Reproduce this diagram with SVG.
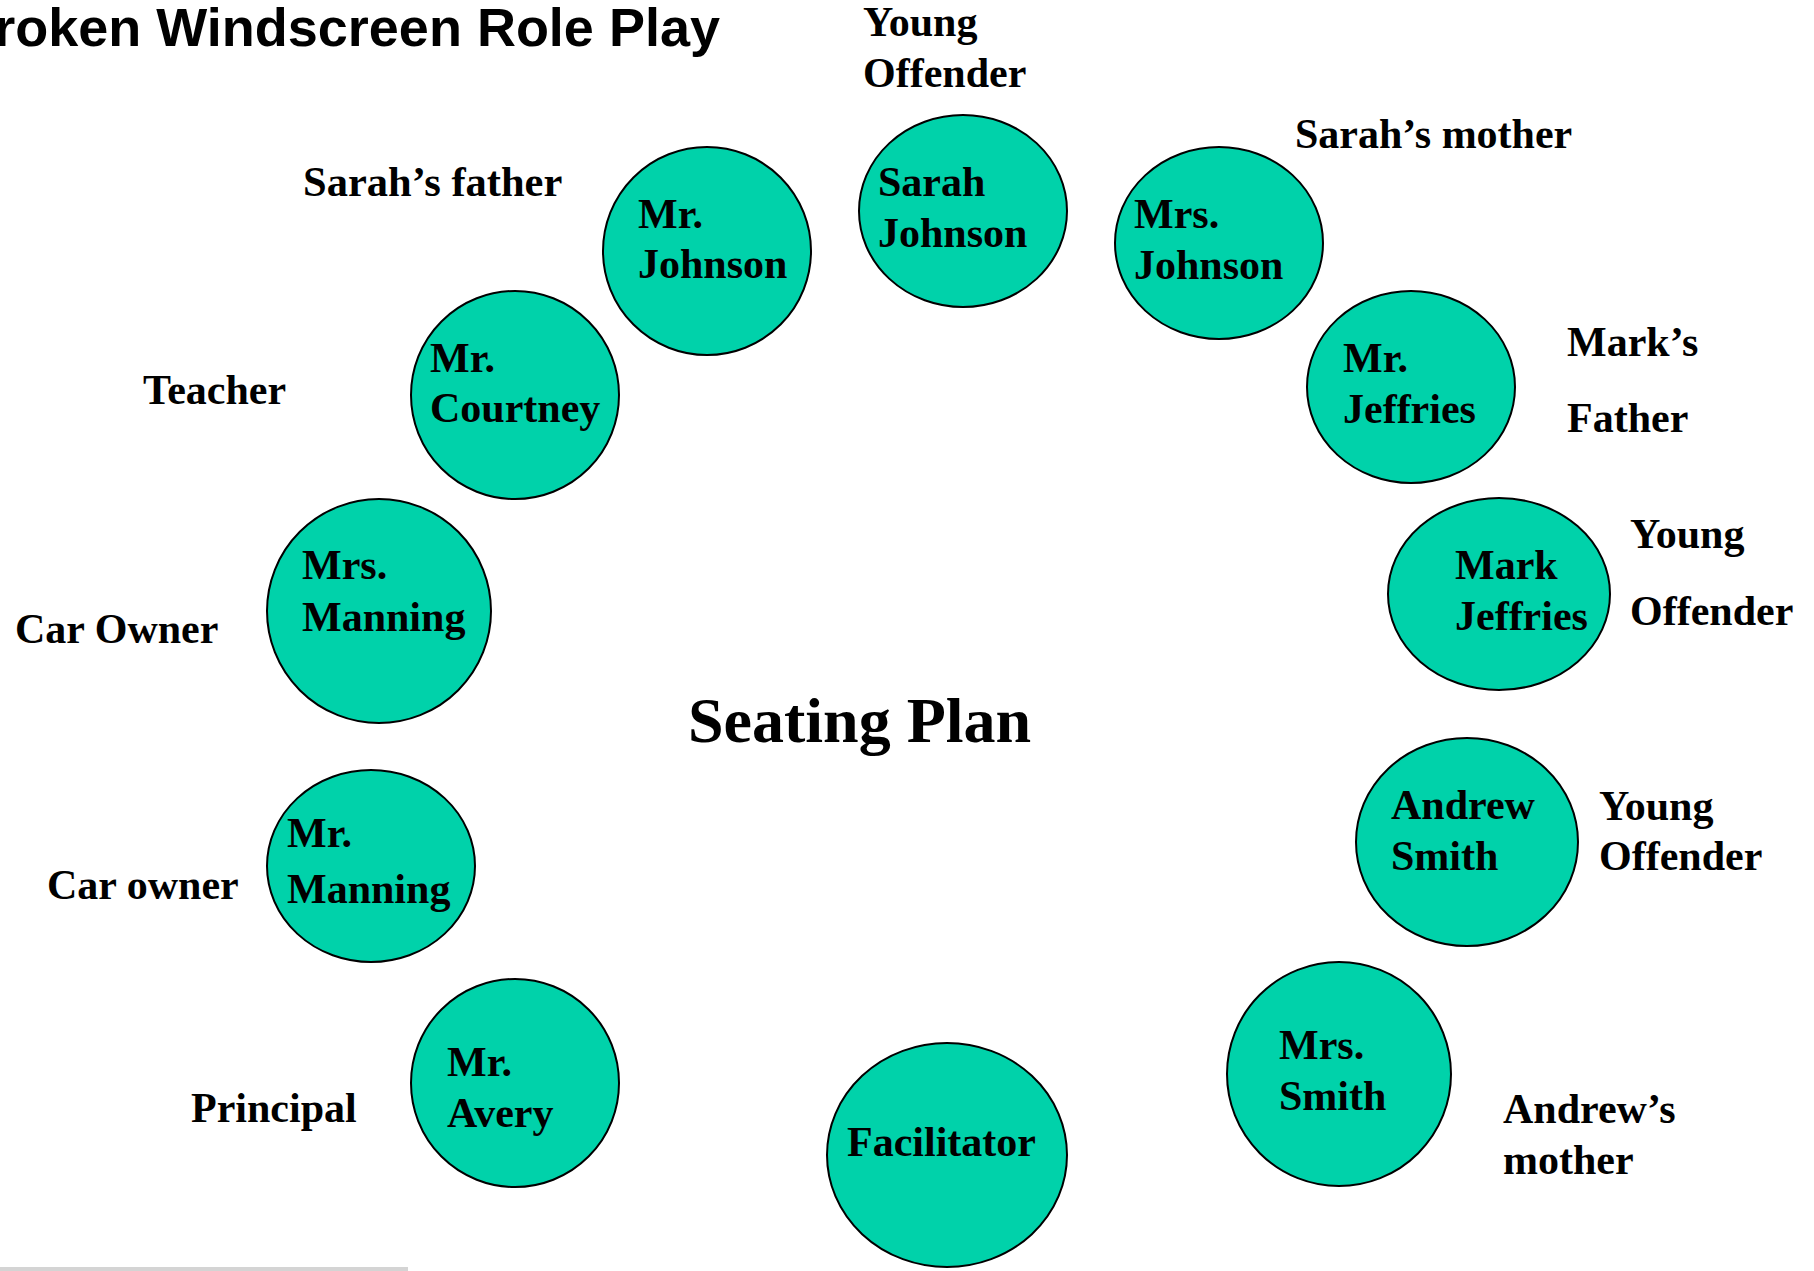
<svg xmlns="http://www.w3.org/2000/svg" width="1814" height="1271" viewBox="0 0 1814 1271">
<style>
.seat{fill:#00D2AA;stroke:#000;stroke-width:2}
.nt{font-family:"Liberation Serif","Times New Roman",serif;font-weight:bold;font-size:42px;fill:#000}
.lb{font-family:"Liberation Serif","Times New Roman",serif;font-weight:bold;font-size:42px;fill:#000}
.title{font-family:"Liberation Sans",Arial,sans-serif;font-weight:bold;font-size:54px;fill:#000}
</style>
<rect width="1814" height="1271" fill="#fff"/>
<rect x="0" y="1267" width="408" height="4" fill="#d4d4d4"/>
<text class="title" x="720" y="46" text-anchor="end">Broken Windscreen Role Play</text>
<text class="lb" x="688" y="742" style="font-size:64px">Seating Plan</text>
<g id="connectors"/>
<g id="labels">
<text class="lb" x="863" y="36">Young</text>
<text class="lb" x="863" y="87">Offender</text>
<text class="lb" x="303" y="196" style="font-size:42.5px">Sarah’s father</text>
<text class="lb" x="1295" y="148">Sarah’s mother</text>
<text class="lb" x="143" y="404">Teacher</text>
<text class="lb" x="1567" y="356">Mark’s</text>
<text class="lb" x="1567" y="432">Father</text>
<text class="lb" x="1630" y="548">Young</text>
<text class="lb" x="1630" y="625">Offender</text>
<text class="lb" x="15" y="643">Car Owner</text>
<text class="lb" x="1599" y="820">Young</text>
<text class="lb" x="1599" y="870">Offender</text>
<text class="lb" x="47" y="899">Car owner</text>
<text class="lb" x="191" y="1122">Principal</text>
<text class="lb" x="1503" y="1123">Andrew’s</text>
<text class="lb" x="1503" y="1174">mother</text>
</g>
<g id="sarah-johnson"><ellipse class="seat" cx="963" cy="211" rx="104" ry="96"/><text class="nt" x="878" y="196">Sarah</text><text class="nt" x="878" y="247">Johnson</text></g>
<g id="mr-johnson"><ellipse class="seat" cx="707" cy="251" rx="104" ry="104"/><text class="nt" x="638" y="228">Mr.</text><text class="nt" x="638" y="278">Johnson</text></g>
<g id="mrs-johnson"><ellipse class="seat" cx="1219" cy="243" rx="104" ry="96"/><text class="nt" x="1134" y="228">Mrs.</text><text class="nt" x="1134" y="279">Johnson</text></g>
<g id="mr-courtney"><ellipse class="seat" cx="515" cy="395" rx="104" ry="104"/><text class="nt" x="430" y="372">Mr.</text><text class="nt" x="430" y="422">Courtney</text></g>
<g id="mr-jeffries"><ellipse class="seat" cx="1411" cy="387" rx="104" ry="96"/><text class="nt" x="1343" y="372">Mr.</text><text class="nt" x="1343" y="423">Jeffries</text></g>
<g id="mrs-manning"><ellipse class="seat" cx="379" cy="611" rx="112" ry="112"/><text class="nt" x="302" y="579">Mrs.</text><text class="nt" x="302" y="631">Manning</text></g>
<g id="mark-jeffries"><ellipse class="seat" cx="1499" cy="594" rx="111" ry="96"/><text class="nt" x="1455" y="579">Mark</text><text class="nt" x="1455" y="630">Jeffries</text></g>
<g id="mr-manning"><ellipse class="seat" cx="371" cy="866" rx="104" ry="96"/><text class="nt" x="287" y="847">Mr.</text><text class="nt" x="287" y="903">Manning</text></g>
<g id="andrew-smith"><ellipse class="seat" cx="1467" cy="842" rx="111" ry="104"/><text class="nt" x="1391" y="819">Andrew</text><text class="nt" x="1391" y="870">Smith</text></g>
<g id="mr-avery"><ellipse class="seat" cx="515" cy="1083" rx="104" ry="104"/><text class="nt" x="447" y="1076">Mr.</text><text class="nt" x="447" y="1127">Avery</text></g>
<g id="facilitator"><ellipse class="seat" cx="947" cy="1155" rx="120" ry="112"/><text class="nt" x="847" y="1156">Facilitator</text></g>
<g id="mrs-smith"><ellipse class="seat" cx="1339" cy="1074" rx="112" ry="112"/><text class="nt" x="1279" y="1059">Mrs.</text><text class="nt" x="1279" y="1110">Smith</text></g>
</svg>
